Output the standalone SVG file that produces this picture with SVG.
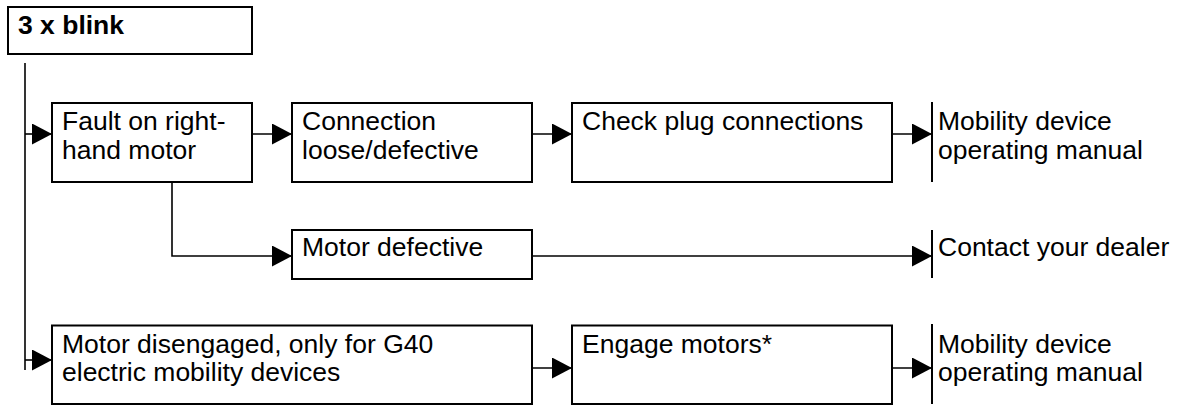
<svg xmlns="http://www.w3.org/2000/svg" width="1187" height="405" viewBox="0 0 1187 405">
  <style>
    .box { fill: #ffffff; stroke: #000000; stroke-width: 2; }
    .bar { stroke: #000000; stroke-width: 2; fill: none; }
    .conn { stroke: #000000; stroke-width: 1.6; fill: none; }
    .t { font-family: "Liberation Sans", Arial, sans-serif; font-size: 26.5px; fill: #000000; }
    .title { font-weight: bold; }
  </style>
  <defs>
    <marker id="arr" markerUnits="userSpaceOnUse" markerWidth="20" markerHeight="21" refX="20" refY="10.5" orient="auto">
      <path d="M0,0 L20,10.5 L0,21 Z" fill="#000000"/>
    </marker>
  </defs>
  <rect width="1187" height="405" fill="#ffffff"/>

  <g id="connectors">
    <path class="conn" d="M25,63 V370"/>
    <path class="conn" d="M25,134 H52" marker-end="url(#arr)"/>
    <path class="conn" d="M25,360 H52" marker-end="url(#arr)"/>
    <path class="conn" d="M252,134 H292" marker-end="url(#arr)"/>
    <path class="conn" d="M532,134 H572" marker-end="url(#arr)"/>
    <path class="conn" d="M892,134 H932" marker-end="url(#arr)"/>
    <path class="conn" d="M172,182 V256 H292" marker-end="url(#arr)"/>
    <path class="conn" d="M532,256 H932" marker-end="url(#arr)"/>
    <path class="conn" d="M532,368 H572" marker-end="url(#arr)"/>
    <path class="conn" d="M892,368 H932" marker-end="url(#arr)"/>
  </g>

  <g id="node-blink">
    <rect class="box" x="8" y="7" width="244" height="47"/>
    <text class="t title" x="18" y="33.5">3 x blink</text>
  </g>

  <g id="node-fault">
    <rect class="box" x="52" y="103" width="200" height="79"/>
    <text class="t" x="62" y="130">Fault on right-</text>
    <text class="t" x="62" y="158.5">hand motor</text>
  </g>

  <g id="node-connection">
    <rect class="box" x="292" y="103" width="240" height="79"/>
    <text class="t" x="302" y="130">Connection</text>
    <text class="t" x="302" y="158.5">loose/defective</text>
  </g>

  <g id="node-check">
    <rect class="box" x="572" y="103" width="320" height="79"/>
    <text class="t" x="582" y="130">Check plug connections</text>
  </g>

  <g id="node-manual-1">
    <line class="bar" x1="932" y1="102" x2="932" y2="182"/>
    <text class="t" x="938" y="130">Mobility device</text>
    <text class="t" x="938" y="158.5">operating manual</text>
  </g>

  <g id="node-motor-defective">
    <rect class="box" x="292" y="230" width="240" height="49"/>
    <text class="t" x="302" y="256">Motor defective</text>
  </g>

  <g id="node-dealer">
    <line class="bar" x1="932" y1="230" x2="932" y2="278"/>
    <text class="t" x="938" y="256">Contact your dealer</text>
  </g>

  <g id="node-disengaged">
    <rect class="box" x="52" y="325.5" width="480" height="78.5"/>
    <text class="t" x="62" y="352.5">Motor disengaged, only for G40</text>
    <text class="t" x="62" y="381">electric mobility devices</text>
  </g>

  <g id="node-engage">
    <rect class="box" x="572" y="325.5" width="320" height="78.5"/>
    <text class="t" x="582" y="352.5">Engage motors*</text>
  </g>

  <g id="node-manual-2">
    <line class="bar" x1="932" y1="324" x2="932" y2="404"/>
    <text class="t" x="938" y="352.5">Mobility device</text>
    <text class="t" x="938" y="381">operating manual</text>
  </g>
</svg>
